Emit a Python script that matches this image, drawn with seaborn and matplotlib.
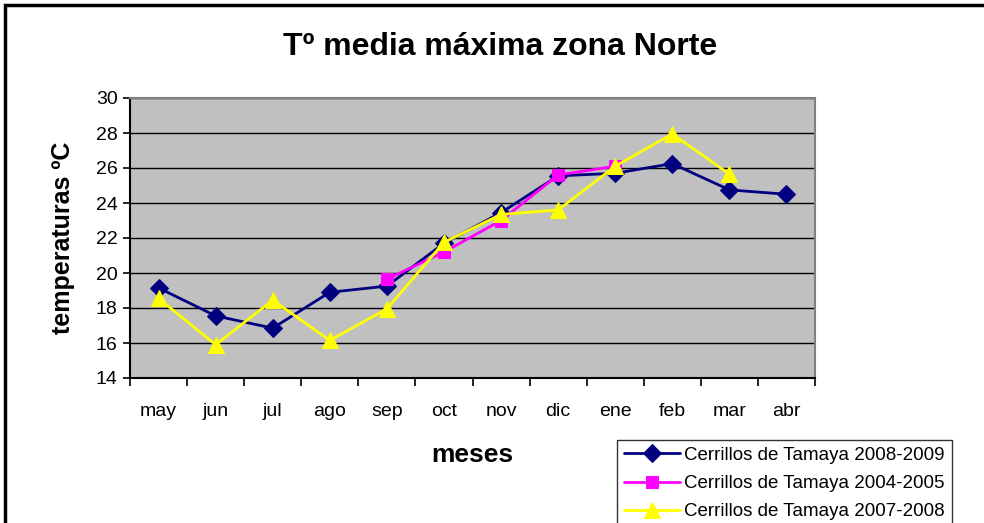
import matplotlib
matplotlib.use("Agg")
import matplotlib.pyplot as plt
import seaborn as sns
import numpy as np
import pandas as pd
from matplotlib.patches import Rectangle
from matplotlib.ticker import FixedLocator, NullFormatter

months = ["may", "jun", "jul", "ago", "sep", "oct", "nov", "dic", "ene", "feb", "mar", "abr"]
s_2008_2009 = [19.15, 17.55, 16.85, 18.9, 19.25, 21.7, 23.45, 25.55, 25.7, 26.25, 24.75, 24.5]
s_2004_2005 = [np.nan, np.nan, np.nan, np.nan, 19.65, 21.2, 23.0, 25.6, 26.1, np.nan, np.nan, np.nan]
s_2007_2008 = [18.55, 15.9, 18.45, 16.15, 17.95, 21.75, 23.35, 23.6, 26.1, 27.95, 25.65, np.nan]
series_names = ["Cerrillos de Tamaya 2008-2009", "Cerrillos de Tamaya 2004-2005", "Cerrillos de Tamaya 2007-2008"]
yticks = [14, 16, 18, 20, 22, 24, 26, 28, 30]

sns.set_theme(style="white")
plt.rcParams["font.family"] = ["Liberation Sans", "DejaVu Sans"]
plt.rcParams["text.color"] = "black"
plt.rcParams["axes.labelcolor"] = "black"
plt.rcParams["xtick.color"] = "black"
plt.rcParams["ytick.color"] = "black"

fig = plt.figure(figsize=(9.84, 5.23), dpi=100)
ax = fig.add_axes([130/984, 1-378/523, (815-130)/984, (378-98)/523])
ax.set_facecolor("#C0C0C0")

x = np.arange(len(months))
styles = [
    dict(color="#000080", marker="D", markersize=9),
    dict(color="#FF00FF", marker="s", markersize=9),
    dict(color="#FFFF00", marker="^", markersize=11),
]
for name, vals, st in zip(series_names, [s_2008_2009, s_2004_2005, s_2007_2008], styles):
    df = pd.DataFrame({"x": x, "y": vals}).dropna()
    sns.lineplot(data=df, x="x", y="y", ax=ax, color=st["color"], marker=st["marker"],
                 markersize=st["markersize"], markeredgecolor=st["color"], linewidth=2,
                 label=name, sort=False, zorder=3)

ax.set_xlim(-0.5, len(months) - 0.5)
ax.set_ylim(14, 30)
ax.set_yticks(yticks)
ax.set_yticklabels([str(t) for t in yticks], fontsize=14)
ax.set_xticks(x)
ax.set_xticklabels(months, fontsize=14)
ax.xaxis.set_minor_locator(FixedLocator(np.arange(-0.5, len(months), 1.0)))
ax.xaxis.set_minor_formatter(NullFormatter())
ax.tick_params(axis="x", which="major", length=0, pad=18, colors="black")
ax.tick_params(axis="x", which="minor", length=6, width=1.2, direction="out", color="black", bottom=True)
ax.tick_params(axis="y", which="major", length=5, width=1.2, direction="out", color="black", left=True, pad=4)
ax.grid(axis="y", color="black", linewidth=1)
ax.grid(axis="x", visible=False)
ax.set_axisbelow(True)
for side in ["left", "bottom"]:
    ax.spines[side].set_color("black")
    ax.spines[side].set_linewidth(1.5)
for side in ["top", "right"]:
    ax.spines[side].set_color("#808080")
    ax.spines[side].set_linewidth(1.5)

ax.set_xlabel("meses", fontsize=19, fontweight="bold")
ax.set_ylabel("temperaturas ºC", fontsize=18, fontweight="bold")
ax.xaxis.set_label_coords((472-130)/685, -(455-378)/280)
ax.xaxis.label.set_va("center")
ax.yaxis.set_label_coords(-(130-63)/685, 0.5)
ax.yaxis.label.set_va("center")

fig.text(500/984, 1-47/523, "Tº media máxima zona Norte", ha="center", va="center",
         fontsize=23, fontweight="bold")

leg = ax.legend(loc="upper left", bbox_to_anchor=(617/984, 1-440/523), bbox_transform=fig.transFigure,
                frameon=True, fancybox=False, fontsize=13.5, handlelength=3.0, borderpad=0.35,
                labelspacing=0.6, handletextpad=0.25, borderaxespad=0)
leg.get_frame().set_edgecolor("black")
leg.get_frame().set_linewidth(1)

fig.patches.append(Rectangle((5/984, -0.1), 1.1, 1-5/523+0.1, transform=fig.transFigure,
                             fill=False, edgecolor="black", linewidth=2.5, zorder=10))

fig.savefig("out.png", dpi=100, facecolor="white")
